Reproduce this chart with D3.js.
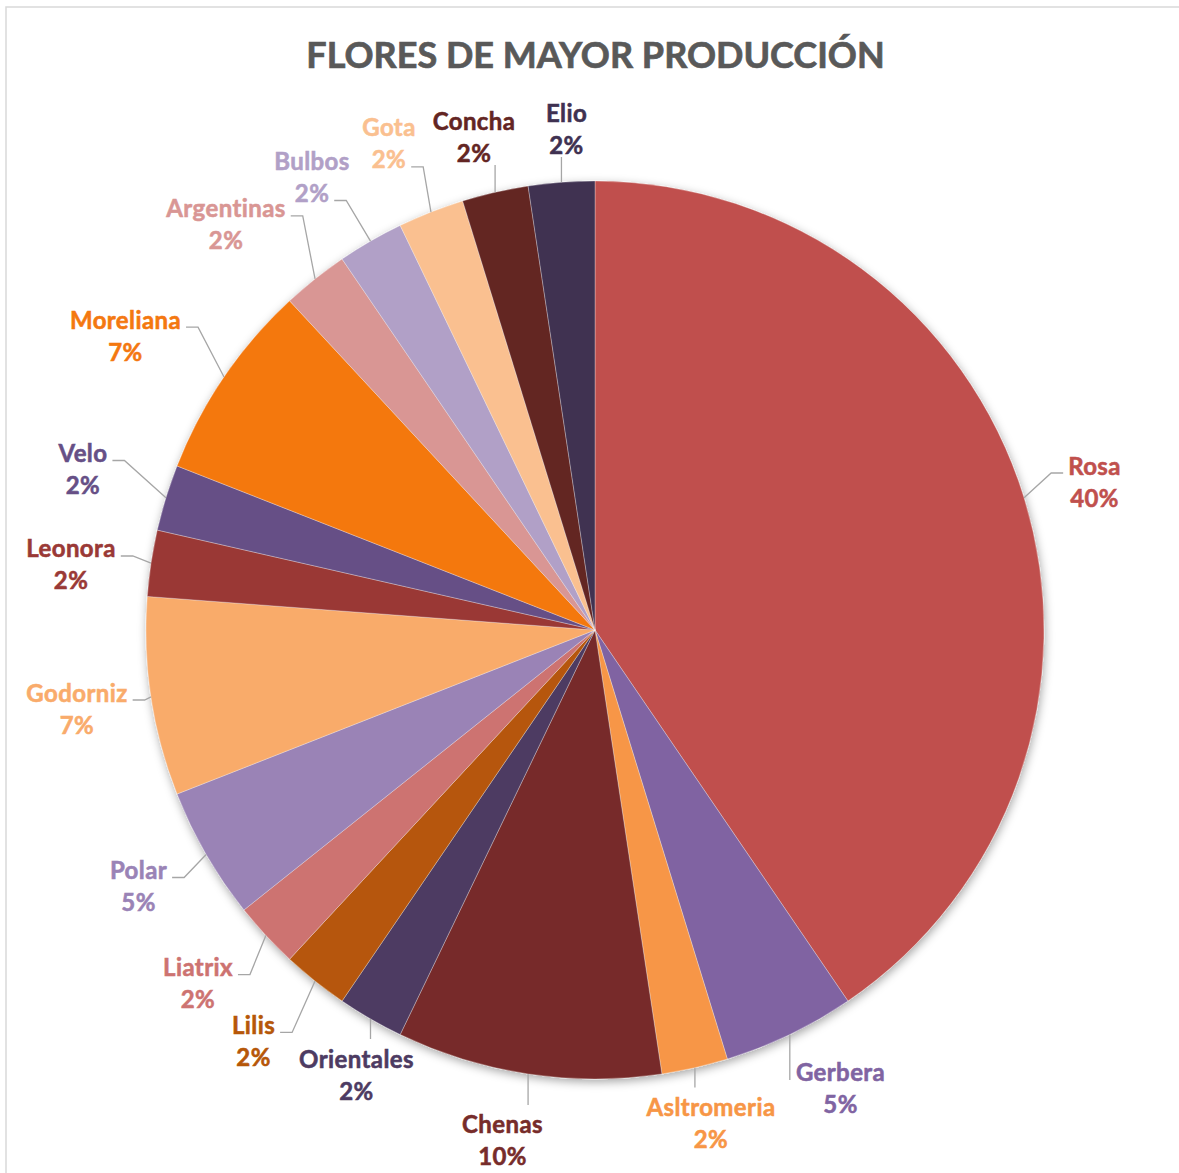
<!DOCTYPE html>
<html><head><meta charset="utf-8">
<script src="https://cdn.jsdelivr.net/npm/d3@7"></script>
<style>html,body{margin:0;padding:0;background:#fff;} svg{display:block;}</style>
</head><body>
<svg id="chart" width="1179" height="1173"></svg>
<script>
// ---- data ----
const title = "FLORES DE MAYOR PRODUCCIÓN";
const categories = ["Rosa","Gerbera","Asltromeria","Chenas","Orientales","Lilis","Liatrix","Polar","Godorniz","Leonora","Velo","Moreliana","Argentinas","Bulbos","Gota","Concha","Elio"];
const values = [17,2,1,4,1,1,1,2,3,1,1,3,1,1,1,1,1];
const colors = ["#C0504D","#8064A2","#F79646","#772C2A","#4D3B62","#B65708","#CD7371","#9A83B6","#F9AB6B","#9A3936","#664F86","#F47810","#D99694","#B1A0C7","#FAC090","#632523","#3F3151"];
// ---- label layout (distance from centre, angular nudge in degrees, leader style) ----
const labelDist  = [521,520.5,507,519.3,504.9,534.7,531.6,523.6,524,528,536.6,553.9,547.9,533.7,527.9,507.6,501.8];
const labelNudge = [0.64,-2.43,-0.37,1.69,-1.81,1.12,1.17,0.67,-0.1,-1.5,0.26,-2.24,-3.76,-2.02,-1.54,-0.93,1.03];
const leaderMode = ["R","B","B","B","B","L1","L1","L1","L1","L1","L1","L1","L1","L2","L2","T","T"];

const svg = d3.select("#chart");
const cx = 595, cy = 630, R = 449;
const fontFam = "Lato, 'Open Sans', sans-serif";

// frame
svg.append("rect").attr("x",6).attr("y",7).attr("width",1300).attr("height",1300)
  .attr("fill","#fff").attr("stroke","#D9D9D9").attr("stroke-width",1.5);

// title
svg.append("text").attr("x",595.5).attr("y",68).attr("text-anchor","middle")
  .attr("font-family",fontFam).attr("font-weight",700).attr("font-size",36)
  .attr("fill","#595959").attr("stroke","#595959").attr("stroke-width",0.7)
  .text(title);

const defs = svg.append("defs");
const f = defs.append("filter").attr("id","shadow").attr("x","-10%").attr("y","-10%").attr("width","120%").attr("height","120%");
f.append("feDropShadow").attr("dx",1).attr("dy",3).attr("stdDeviation",5)
  .attr("flood-color","#000").attr("flood-opacity",0.35);

const data = categories.map((c,i)=>({name:c, value:values[i], color:colors[i], i}));
const total = d3.sum(values);
const pct = d3.format(".0%");
const pie = d3.pie().sort(null).value(d=>d.value);
const arcs = pie(data);
const arc = d3.arc().innerRadius(0).outerRadius(R);

const g = svg.append("g").attr("transform",`translate(${cx},${cy})`);
g.append("g").attr("filter","url(#shadow)")
  .selectAll("path").data(arcs).join("path")
  .attr("d",arc).attr("fill",d=>d.data.color)
  .attr("stroke","#fff").attr("stroke-width",0.6).attr("stroke-opacity",0.5);

const leaders = svg.append("g");
const labels = svg.append("g").attr("font-family",fontFam).attr("font-weight",700)
  .attr("font-size",24).attr("letter-spacing","0.4px").attr("stroke-width",0.55);

arcs.forEach(a=>{
  const i = a.data.i;
  const mid = (a.startAngle + a.endAngle)/2;
  const la = mid + labelNudge[i]*Math.PI/180;
  const lx = cx + labelDist[i]*Math.sin(la);
  const ly = cy - labelDist[i]*Math.cos(la);
  const t1 = labels.append("text").attr("x",lx).attr("y",ly-7.5).attr("text-anchor","middle")
    .attr("fill",a.data.color).attr("stroke",a.data.color).text(a.data.name);
  const t2 = labels.append("text").attr("x",lx).attr("y",ly+24.5).attr("text-anchor","middle")
    .attr("fill",a.data.color).attr("stroke",a.data.color).text(pct(a.data.value/total));
  const w1 = t1.node().getComputedTextLength();
  const w2 = t2.node().getComputedTextLength();
  const px = cx + R*Math.sin(mid), py = cy - R*Math.cos(mid);
  let pts;
  const m = leaderMode[i];
  if (m === "R") {
    const sx = lx - w1/2 - 5, sy = ly - 9;
    pts = [[px,py],[sx-12,sy],[sx,sy]];
  } else if (m === "L1") {
    const sx = lx + w1/2 + 5, sy = ly - 9;
    pts = [[px,py],[sx+12,sy],[sx,sy]];
  } else if (m === "L2") {
    const sx = lx + w2/2 + 5, sy = ly + 23;
    pts = [[px,py],[sx+12,sy],[sx,sy]];
  } else if (m === "B") {
    const mw = Math.max(w1,w2)/2;
    const inside = px > lx - mw && px < lx + mw;
    pts = [[px,py],[px, inside ? ly-36 : ly-9]];
  } else {
    pts = [[px,py],[px, ly+28]];
  }
  leaders.append("path").attr("d",d3.line()(pts)).attr("fill","none")
    .attr("stroke","#A6A6A6").attr("stroke-width",1.3);
});
</script>
</body></html>
